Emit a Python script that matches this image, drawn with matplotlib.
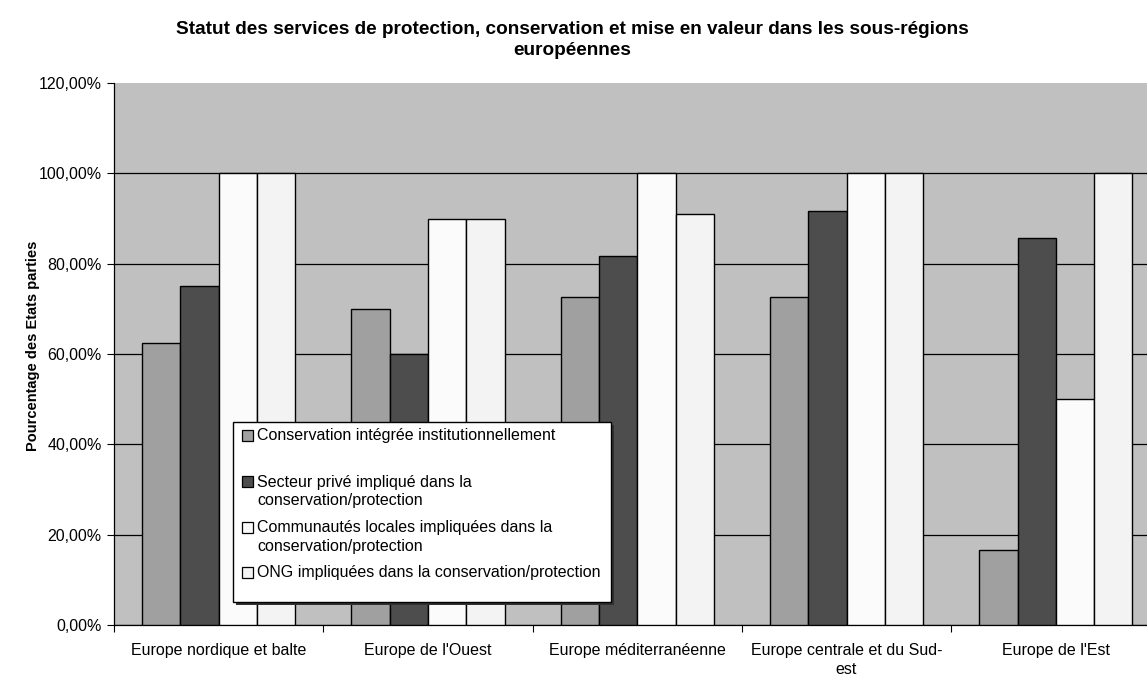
import numpy as np
import matplotlib.pyplot as plt
from matplotlib.patches import Rectangle

plt.rcParams['font.family'] = ['Liberation Sans', 'DejaVu Sans']

regions = [
    "Europe nordique et balte",
    "Europe de l'Ouest",
    "Europe méditerranéenne",
    "Europe centrale et du Sud-\nest",
    "Europe de l'Est",
]
conservation = [62.5, 70.0, 72.7, 72.7, 16.7]
secteur_prive = [75.0, 60.0, 81.8, 91.7, 85.7]
communautes = [100.0, 90.0, 100.0, 100.0, 50.0]
ong = [100.0, 90.0, 90.9, 100.0, 100.0]

series_labels = [
    "Conservation intégrée institutionnellement",
    "Secteur privé impliqué dans la\nconservation/protection",
    "Communautés locales impliquées dans la\nconservation/protection",
    "ONG impliquées dans la conservation/protection",
]
yticks = [0, 20, 40, 60, 80, 100, 120]
colors = ['#a0a0a0', '#4d4d4d', '#fbfbfb', '#f3f3f3']

W, H = 1147, 675


def fx(x):
    return x / W


def fy(y):
    return 1 - y / H


fig = plt.figure(figsize=(W / 100, H / 100), dpi=100)
fig.patch.set_facecolor('white')

# plot area runs slightly past the right edge of the figure
ax = fig.add_axes([fx(114), fy(625), 1046.5 / W, (625 - 83) / H])
ax.set_facecolor('#c0c0c0')
ax.set_axisbelow(True)

values = [conservation, secteur_prive, communautes, ong]
x = np.arange(len(regions))
width = 0.183
for i, (vals, col) in enumerate(zip(values, colors)):
    ax.bar(x + (i - 1.5) * width, vals, width, color=col,
           edgecolor='black', linewidth=1.0, zorder=3)

ax.set_xlim(-0.5, len(regions) - 0.5)
ax.set_ylim(0, 120)
ax.set_yticks(yticks)
ax.set_yticklabels([f"{v:.2f}%".replace('.', ',') for v in yticks])
ax.yaxis.grid(True, color='black', linewidth=0.9, zorder=1)
ax.get_ygridlines()[-1].set_visible(False)

# category boundary ticks, labels centred on the groups
ax.set_xticks(np.arange(len(regions) + 1) - 0.5)
ax.set_xticklabels([])
ax.set_xticks(x, minor=True)
ax.set_xticklabels(regions, minor=True, fontsize=11.5, linespacing=1.3)
ax.tick_params(axis='x', which='major', length=5, width=0.8, direction='out')
ax.tick_params(axis='x', which='minor', length=0, pad=13)
ax.tick_params(axis='y', length=5, width=0.8, pad=4, labelsize=11.5)

for side in ['top', 'right']:
    ax.spines[side].set_visible(False)
for side in ['left', 'bottom']:
    ax.spines[side].set_color('black')
    ax.spines[side].set_linewidth(0.9)

fig.text(fx(33), fy(346), "Pourcentage des Etats parties", rotation=90,
         ha='center', va='center', fontsize=10.5, fontweight='bold')

fig.text(fx(572), fy(40),
         "Statut des services de protection, conservation et mise en valeur dans les sous-régions\neuropéennes",
         ha='center', va='center', fontsize=13.7, fontweight='bold', linespacing=1.25)

# legend box drawn by hand, with its drop shadow
lx0, ly0, lx1, ly1 = 233, 422, 611, 602
fig.add_artist(Rectangle((fx(lx0 + 3), fy(ly1 + 3)), (lx1 - lx0) / W, (ly1 - ly0) / H,
                         transform=fig.transFigure, facecolor='#303030',
                         edgecolor='none', zorder=5))
fig.add_artist(Rectangle((fx(lx0), fy(ly1)), (lx1 - lx0) / W, (ly1 - ly0) / H,
                         transform=fig.transFigure, facecolor='white',
                         edgecolor='black', linewidth=1.0, zorder=6))
row_centres = [435, 481.5, 527, 572]
line_step = 18.5
for label, col, yc in zip(series_labels, colors, row_centres):
    fig.add_artist(Rectangle((fx(242), fy(yc + 5.5)), 11 / W, 11 / H,
                             transform=fig.transFigure, facecolor=col,
                             edgecolor='black', linewidth=0.9, zorder=7))
    for k, line in enumerate(label.split('\n')):
        fig.text(fx(257), fy(yc + 5 + k * line_step), line, ha='left',
                 va='baseline', fontsize=11.5, zorder=8)

fig.savefig('out.png', dpi=100)
